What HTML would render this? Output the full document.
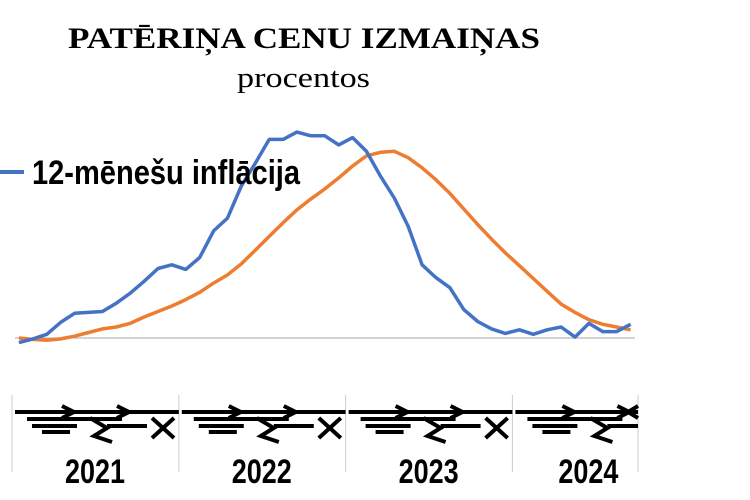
<!DOCTYPE html>
<html><head><meta charset="utf-8"><style>
body{margin:0;background:#fff;}
svg{display:block}
</style></head><body>
<svg width="750" height="500" viewBox="0 0 750 500">
<text x="68" y="48" font-family="Liberation Serif, serif" font-weight="bold" font-size="30" fill="#000" textLength="472" lengthAdjust="spacingAndGlyphs">PATĒRIŅA CENU IZMAIŅAS</text>
<text x="237" y="87" font-family="Liberation Serif, serif" font-size="28" fill="#000" textLength="133" lengthAdjust="spacingAndGlyphs">procentos</text>
<g id="axes"></g>
<g id="series"></g>
<line x1="0" y1="172" x2="24" y2="172" stroke="#4472C4" stroke-width="4"/>
<text x="32" y="184" font-family="Liberation Sans, sans-serif" font-weight="bold" font-size="34" fill="#000" textLength="268" lengthAdjust="spacingAndGlyphs">12-mēnešu inflācija</text>
</svg>
<script>
const years = ["2021","2022","2023","2024"];
const inflation = [-0.5,-0.1,0.4,1.7,2.7,2.8,2.9,3.8,4.9,6.2,7.6,8.0,7.5,8.8,11.7,13.1,16.6,19.1,21.7,21.7,22.5,22.1,22.1,21.1,21.9,20.4,17.7,15.3,12.2,8.0,6.6,5.5,3.1,1.8,1.0,0.5,0.9,0.4,0.9,1.2,0.1,1.6,0.7,0.7,1.5];
const trend = [0,-0.15,-0.25,-0.1,0.2,0.6,1.0,1.2,1.6,2.3,2.9,3.5,4.2,5.0,6.0,6.9,8.1,9.6,11.1,12.6,14.0,15.2,16.3,17.5,18.8,19.9,20.3,20.4,19.7,18.6,17.3,15.8,14.1,12.4,10.8,9.3,7.9,6.5,5.1,3.7,2.8,2.0,1.5,1.2,0.9];
const NS="http://www.w3.org/2000/svg";
const x0=12, monthW=13.9, y0=338, pxPer=9.15;
function xScale(i){return x0+monthW*(i+0.5);}
function yScale(v){return y0-v*pxPer;}
const axes=document.getElementById('axes');
const series=document.getElementById('series');
function mk(tag,attrs,parent){const e=document.createElementNS(NS,tag);for(const k in attrs)e.setAttribute(k,attrs[k]);parent.appendChild(e);return e;}
const base=mk('line',{x1:15,y1:y0,x2:635,y2:y0,stroke:'#aaa','stroke-width':1},axes);


const totalMonths=inflation.length;
const axisEnd=638;
for(let k=0;k<=years.length;k++){
  const x=Math.min(x0+monthW*k*12,axisEnd);
  const t=mk('line',{x1:x,y1:395,x2:x,y2:472,stroke:'#ccc','stroke-width':1},axes);
  
  
}
years.forEach((yr,k)=>{
  const start=x0+monthW*k*12;
  const end=Math.min(x0+monthW*(k+1)*12,axisEnd);
  const g=mk('g',{stroke:'#000','stroke-width':4,fill:'none'},axes);
  
  
  const w=end-start;
  mk('line',{x1:start+3,y1:412,x2:end,y2:412},g);
  mk('line',{x1:start+15,y1:419,x2:start+Math.min(110,w),y2:419},g);
  mk('line',{x1:start+20,y1:426,x2:start+65,y2:426},g);
  mk('line',{x1:start+95,y1:426,x2:start+Math.min(135,w),y2:426},g);
  mk('line',{x1:start+30,y1:432,x2:start+58,y2:432},g);
  mk('polyline',{points:`${start+50},406 ${start+62},412 ${start+50},418`},g);
  mk('polyline',{points:`${start+78},418 ${start+95},428 ${start+82},436 ${start+100},442`},g);
  mk('polyline',{points:`${start+105},406 ${start+117},412 ${start+105},418`},g);
  if(w>150){
    mk('line',{x1:start+140,y1:418,x2:start+162,y2:438},g);
    mk('line',{x1:start+162,y1:418,x2:start+140,y2:438},g);
  } else {
    mk('polyline',{points:`${end},406 ${end-10},412 ${end},418`},g);
  }
  const t=mk('text',{x:start+(k==3?76:83),y:483,'text-anchor':'middle','font-family':'Liberation Sans, sans-serif','font-weight':'bold','font-size':34,fill:'#000',textLength:60,lengthAdjust:'spacingAndGlyphs',stroke:'none'},axes);
  t.textContent=yr;
  
  
});
function path(vals){return vals.map((v,i)=>(i?'L':'M')+xScale(i).toFixed(1)+','+yScale(v).toFixed(1)).join(' ');}
const tr=mk('path',{d:path(trend),stroke:'#ED7D31','stroke-width':3.5,fill:'none','stroke-linejoin':'round'},series);


const bl=mk('path',{d:path(inflation),stroke:'#4472C4','stroke-width':3.5,fill:'none','stroke-linejoin':'round'},series);


</script>
</body></html>
